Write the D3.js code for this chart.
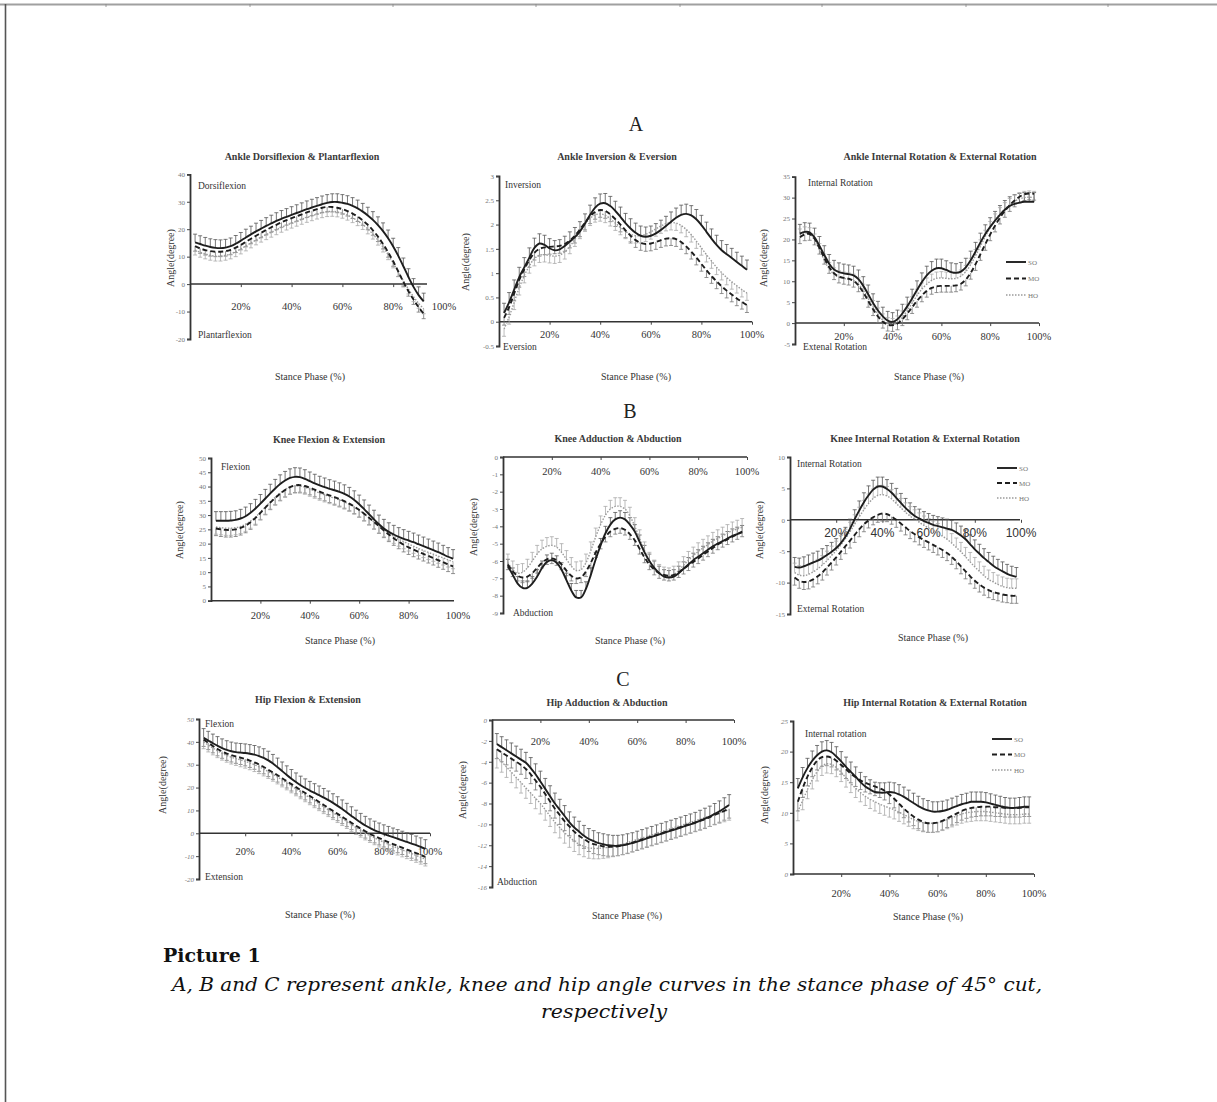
<!DOCTYPE html>
<html>
<head>
<meta charset="utf-8">
<script src="https://cdnjs.cloudflare.com/ajax/libs/d3/7.8.5/d3.min.js"></script>
<style>
  body { margin: 0; background: #fff; }
</style>
</head>
<body>
<svg id="fig" width="1217" height="1102"></svg>
<script>
// stance phase (%) at each sample
const phase = [2,4,6,8,10,12,14,16,18,20,22,24,26,28,30,32,34,36,38,40,42,44,46,48,50,52,54,56,58,60,62,64,66,68,70,72,74,76,78,80,82,84,86,88,90,92,94,96,98];
const pctTicks = [20, 40, 60, 80, 100];
const seriesNames = ["SO", "MO", "HO"];

// A - ankle
const ankleDfSO = [15.2,14.6,14.0,13.5,13.2,13.1,13.3,13.8,14.7,15.8,17.0,18.1,19.2,20.2,21.2,22.1,23.0,23.8,24.5,25.2,25.9,26.6,27.3,27.9,28.5,29.1,29.6,29.9,29.9,29.6,29.2,28.5,27.6,26.4,25.0,23.4,21.5,19.3,16.7,13.7,10.3,6.5,2.6,-1.0,-4.0,-6.3];
const ankleDfMO = [13.8,13.0,12.4,12.0,11.8,11.8,12.0,12.5,13.3,14.3,15.4,16.5,17.6,18.7,19.7,20.7,21.6,22.5,23.3,24.0,24.7,25.4,26.1,26.7,27.3,27.8,28.1,28.1,27.8,27.3,26.6,25.7,24.6,23.2,21.6,19.6,17.3,14.6,11.6,8.3,4.6,0.8,-2.6,-5.6,-8.4,-10.8];
const ankleDfHO = [12.4,11.6,11.0,10.5,10.2,10.2,10.5,11.0,11.8,12.8,13.9,15.0,16.1,17.1,18.0,18.9,19.8,20.7,21.5,22.2,22.9,23.6,24.3,24.9,25.5,26.0,26.4,26.5,26.3,25.8,25.1,24.2,23.1,21.7,20.1,18.2,16.0,13.5,10.7,7.7,4.5,1.2,-1.8,-4.6,-7.0,-9.0];
const ankleDfSD = [3.0, -1.8, -1.8];
const ankleDfTicks = [40, 30, 20, 10, 0, -10, -20];

const ankleInvSO = [0.18,0.40,0.66,0.92,1.12,1.32,1.52,1.61,1.58,1.51,1.47,1.49,1.56,1.65,1.74,1.86,2.02,2.20,2.35,2.43,2.44,2.38,2.28,2.16,2.03,1.92,1.83,1.77,1.75,1.77,1.82,1.89,1.97,2.06,2.14,2.20,2.22,2.19,2.11,1.99,1.85,1.71,1.58,1.47,1.39,1.31,1.23,1.15,1.07];
const ankleInvMO = [0.08,0.30,0.58,0.86,1.08,1.27,1.42,1.50,1.53,1.54,1.55,1.56,1.60,1.67,1.77,1.90,2.04,2.17,2.26,2.30,2.28,2.21,2.11,2.00,1.88,1.77,1.68,1.62,1.60,1.61,1.64,1.68,1.71,1.72,1.70,1.64,1.55,1.44,1.32,1.19,1.06,0.94,0.83,0.73,0.64,0.56,0.48,0.41,0.34];
const ankleInvHO = [-0.15,0.10,0.40,0.70,0.95,1.15,1.30,1.37,1.38,1.36,1.35,1.37,1.44,1.55,1.70,1.86,2.01,2.13,2.20,2.22,2.19,2.12,2.03,1.94,1.86,1.80,1.77,1.77,1.80,1.85,1.91,1.97,2.02,2.04,2.03,1.98,1.90,1.79,1.66,1.52,1.38,1.25,1.12,1.01,0.91,0.82,0.74,0.66,0.59];
const ankleInvSD = [0.2, -0.15, -0.15];
const ankleInvTicks = [3, 2.5, 2, 1.5, 1, 0.5, 0, -0.5];

const ankleRotSO = [21.4,21.8,21.7,20.5,18.5,16.3,14.2,12.8,12.2,11.9,11.7,11.4,10.5,8.9,6.9,4.8,3.0,1.6,0.6,0.3,0.9,2.3,4.0,5.9,7.9,9.8,11.4,12.5,13.1,13.1,12.7,12.2,12.0,12.3,13.3,15.0,17.1,19.3,21.3,23.0,24.5,25.9,27.1,28.0,28.5,28.8,29.0,29.0,29.0];
const ankleRotMO = [20.5,21.2,21.3,20.2,18.0,15.6,13.4,11.9,11.1,10.8,10.6,10.1,9.0,7.3,5.3,3.3,1.6,0.3,-0.4,-0.5,-0.1,0.9,2.3,3.8,5.3,6.6,7.7,8.4,8.8,8.9,8.9,8.9,9.0,9.4,10.4,12.0,14.1,16.5,18.9,21.2,23.3,25.2,26.8,28.2,29.3,30.2,30.8,31.0,30.9];
const ankleRotHO = [21.0,21.5,21.3,19.8,17.5,15.0,13.0,11.7,11.0,10.7,10.5,10.2,9.3,7.8,5.9,3.9,2.1,0.7,-0.2,-0.4,0.2,1.4,3.0,4.8,6.6,8.1,9.3,10.2,10.7,10.8,10.7,10.6,10.7,11.2,12.3,14.0,16.1,18.4,20.7,22.8,24.6,26.1,27.3,28.3,29.1,29.7,30.0,30.1,30.0];
const ankleRotSD = [2.2, -1.5, 1.5];
const ankleRotTicks = [35, 30, 25, 20, 15, 10, 5, 0, -5];

// B - knee
const kneeFlexSO = [28.0,28.0,28.0,28.1,28.3,28.8,29.6,30.8,32.3,34.0,35.8,37.6,39.3,40.9,42.1,43.0,43.4,43.3,42.7,41.9,41.1,40.4,39.8,39.2,38.7,38.1,37.4,36.5,35.3,33.8,32.1,30.3,28.5,26.8,25.3,24.1,23.2,22.4,21.7,21.1,20.5,19.8,19.1,18.4,17.7,17.0,16.2,15.4,14.7];
const kneeFlexMO = [25.3,25.0,24.8,24.8,25.0,25.5,26.3,27.5,29.0,30.8,32.6,34.4,36.0,37.5,38.8,39.8,40.4,40.5,40.2,39.6,38.9,38.2,37.5,36.9,36.3,35.6,34.9,34.0,33.0,31.8,30.5,29.1,27.6,26.1,24.6,23.2,21.9,20.7,19.6,18.7,17.9,17.1,16.4,15.7,15.0,14.2,13.5,12.7,12.0];
const kneeFlexHO = [25.8,25.6,25.4,25.4,25.6,26.0,26.8,27.9,29.3,31.0,32.8,34.6,36.2,37.7,38.9,39.8,40.2,40.2,39.8,39.1,38.4,37.7,37.1,36.5,35.9,35.3,34.6,33.8,32.8,31.7,30.4,29.0,27.6,26.2,24.9,23.7,22.6,21.6,20.7,19.9,19.1,18.3,17.6,16.9,16.3,15.6,15.0,14.3,13.7];
const kneeFlexSD = [3.2, -2.5, -2.5];
const kneeFlexTicks = [50, 45, 40, 35, 30, 25, 20, 15, 10, 5, 0];

const kneeAddSO = [-6.3,-6.8,-7.3,-7.55,-7.55,-7.3,-6.9,-6.4,-6.05,-5.95,-6.1,-6.5,-7.1,-7.7,-8.1,-8.1,-7.6,-6.8,-5.9,-5.1,-4.4,-3.9,-3.6,-3.5,-3.6,-3.9,-4.3,-4.9,-5.5,-6.0,-6.4,-6.7,-6.9,-6.95,-6.9,-6.7,-6.45,-6.2,-5.95,-5.75,-5.55,-5.35,-5.15,-5.0,-4.85,-4.7,-4.55,-4.45,-4.35];
const kneeAddMO = [-6.2,-6.6,-6.85,-6.95,-6.9,-6.7,-6.4,-6.1,-5.9,-5.85,-5.95,-6.2,-6.55,-6.85,-7.0,-6.95,-6.6,-6.1,-5.5,-5.0,-4.6,-4.3,-4.15,-4.1,-4.2,-4.45,-4.8,-5.3,-5.8,-6.2,-6.5,-6.7,-6.8,-6.85,-6.8,-6.65,-6.45,-6.25,-6.05,-5.85,-5.65,-5.45,-5.25,-5.05,-4.9,-4.75,-4.6,-4.45,-4.3];
const kneeAddHO = [-6.1,-6.5,-6.7,-6.65,-6.4,-6.0,-5.6,-5.3,-5.15,-5.1,-5.2,-5.5,-5.9,-6.3,-6.55,-6.5,-6.1,-5.4,-4.6,-3.9,-3.35,-3.0,-2.85,-2.85,-3.0,-3.4,-4.0,-4.7,-5.4,-6.0,-6.45,-6.7,-6.85,-6.9,-6.8,-6.55,-6.25,-5.95,-5.7,-5.45,-5.25,-5.05,-4.85,-4.7,-4.55,-4.4,-4.25,-4.15,-4.05];
const kneeAddSD = [0.4, -0.3, 0.5];
const kneeAddTicks = [0, -1, -2, -3, -4, -5, -6, -7, -8, -9];

const kneeRotSO = [-7.5,-7.6,-7.4,-7.1,-6.8,-6.5,-6.1,-5.6,-5.1,-4.5,-3.7,-2.7,-1.4,0.1,1.5,2.8,3.9,4.8,5.3,5.3,4.9,4.3,3.5,2.7,1.9,1.2,0.6,0.2,-0.2,-0.5,-0.8,-1.0,-1.2,-1.4,-1.6,-2.0,-2.5,-3.1,-3.9,-4.7,-5.4,-6.1,-6.7,-7.3,-7.8,-8.2,-8.6,-8.9,-9.1];
const kneeRotMO = [-9.2,-9.7,-9.9,-9.8,-9.5,-9.0,-8.4,-7.6,-6.8,-6.0,-5.1,-4.2,-3.3,-2.4,-1.5,-0.7,-0.1,0.4,0.8,1.0,0.9,0.5,0.0,-0.6,-1.2,-1.8,-2.3,-2.8,-3.2,-3.6,-4.0,-4.4,-4.8,-5.3,-5.9,-6.6,-7.4,-8.2,-9.0,-9.7,-10.3,-10.8,-11.2,-11.5,-11.7,-11.9,-12.0,-12.1,-12.1];
const kneeRotHO = [-8.4,-8.8,-8.9,-8.7,-8.3,-7.8,-7.2,-6.5,-5.7,-4.9,-4.0,-3.0,-1.9,-0.7,0.5,1.6,2.6,3.4,3.9,4.0,3.8,3.3,2.6,1.9,1.2,0.6,0.1,-0.4,-0.9,-1.3,-1.7,-2.1,-2.6,-3.1,-3.7,-4.4,-5.1,-5.9,-6.7,-7.5,-8.2,-8.9,-9.5,-9.9,-10.3,-10.6,-10.8,-10.9,-10.9];
const kneeRotSD = [1.5, -1.2, 1.5];
const kneeRotTicks = [10, 5, 0, -5, -10, -15];

// C - hip
const hipFlexSO = [41.8,40.6,39.4,38.3,37.3,36.5,35.9,35.5,35.3,35.1,34.8,34.4,33.8,33.0,31.9,30.5,28.9,27.2,25.5,23.9,22.4,21.0,19.8,18.7,17.7,16.7,15.6,14.5,13.3,12.0,10.6,9.1,7.6,6.1,4.7,3.4,2.3,1.3,0.5,-0.3,-1.0,-1.7,-2.4,-3.1,-3.8,-4.5,-5.2,-6.0,-6.8];
const hipFlexMO = [41.0,39.6,38.2,36.9,35.8,34.9,34.2,33.6,33.1,32.5,31.8,31.0,30.1,29.0,27.8,26.6,25.4,24.1,22.8,21.5,20.2,18.9,17.6,16.3,15.0,13.7,12.4,11.1,9.8,8.5,7.2,5.9,4.6,3.3,2.1,0.9,-0.2,-1.2,-2.1,-3.0,-3.9,-4.7,-5.5,-6.3,-7.1,-7.9,-8.7,-9.5,-10.3];
const hipFlexHO = [40.0,38.6,37.3,36.1,35.0,34.1,33.3,32.7,32.1,31.5,30.8,30.0,29.1,28.1,27.0,25.8,24.6,23.3,22.0,20.7,19.4,18.1,16.8,15.5,14.2,12.9,11.6,10.3,9.0,7.7,6.4,5.1,3.8,2.5,1.3,0.1,-1.0,-2.0,-3.0,-3.9,-4.8,-5.7,-6.5,-7.3,-8.1,-8.9,-9.7,-10.5,-11.3];
const hipFlexSD = [4.0, -3.0, -3.0];
const hipFlexTicks = [50, 40, 30, 20, 10, 0, -10, -20];

const hipAddSO = [-2.3,-2.6,-2.9,-3.2,-3.5,-3.8,-4.1,-4.6,-5.2,-5.9,-6.6,-7.3,-8.0,-8.6,-9.2,-9.8,-10.3,-10.7,-11.1,-11.4,-11.6,-11.8,-11.9,-12.0,-12.05,-12.05,-12.0,-11.9,-11.8,-11.65,-11.5,-11.35,-11.2,-11.05,-10.9,-10.75,-10.6,-10.45,-10.3,-10.15,-10.0,-9.85,-9.65,-9.45,-9.25,-9.0,-8.75,-8.45,-8.15];
const hipAddMO = [-2.8,-3.1,-3.4,-3.7,-4.0,-4.3,-4.7,-5.2,-5.8,-6.4,-7.1,-7.8,-8.5,-9.1,-9.7,-10.2,-10.7,-11.1,-11.4,-11.7,-11.9,-12.0,-12.1,-12.15,-12.15,-12.1,-12.0,-11.9,-11.75,-11.6,-11.45,-11.3,-11.15,-11.0,-10.85,-10.7,-10.55,-10.4,-10.25,-10.1,-9.95,-9.8,-9.65,-9.5,-9.3,-9.1,-8.9,-8.7,-8.5];
const hipAddHO = [-3.6,-4.0,-4.5,-5.0,-5.5,-6.0,-6.5,-7.0,-7.5,-8.0,-8.6,-9.2,-9.8,-10.3,-10.8,-11.2,-11.6,-11.9,-12.1,-12.25,-12.3,-12.3,-12.25,-12.2,-12.1,-12.0,-11.9,-11.75,-11.6,-11.45,-11.3,-11.15,-11.0,-10.85,-10.7,-10.55,-10.4,-10.25,-10.1,-9.95,-9.8,-9.65,-9.5,-9.35,-9.2,-9.05,-8.9,-8.75,-8.6];
const hipAddSD = [1.0, -0.9, -1.0];
const hipAddTicks = [0, -2, -4, -6, -8, -10, -12, -14, -16];

const hipRotSO = [14.0,15.8,17.3,18.5,19.4,20.0,20.2,19.9,19.2,18.4,17.5,16.7,15.9,15.0,14.3,13.8,13.4,13.3,13.3,13.4,13.3,13.0,12.6,12.1,11.6,11.1,10.7,10.4,10.2,10.2,10.3,10.5,10.8,11.1,11.4,11.6,11.8,11.8,11.8,11.7,11.5,11.3,11.1,10.9,10.8,10.8,10.9,11.0,11.0];
const hipRotMO = [11.8,14.0,15.9,17.4,18.5,19.1,19.2,19.0,18.5,17.8,17.1,16.4,15.8,15.3,14.9,14.6,14.3,14.0,13.6,13.0,12.3,11.5,10.7,10.0,9.4,8.9,8.5,8.3,8.3,8.4,8.7,9.1,9.5,9.9,10.3,10.6,10.8,10.9,11.0,11.0,11.0,10.9,10.9,10.8,10.8,10.8,10.8,10.9,10.9];
const hipRotHO = [10.2,12.0,13.8,15.4,16.7,17.6,18.0,17.9,17.4,16.6,15.7,14.8,14.0,13.3,12.7,12.2,11.8,11.4,11.1,10.8,10.5,10.1,9.7,9.3,8.9,8.6,8.4,8.3,8.3,8.4,8.6,8.9,9.2,9.5,9.8,10.0,10.1,10.2,10.2,10.2,10.1,10.0,9.9,9.8,9.7,9.7,9.7,9.8,9.8];
const hipRotSD = [1.6, -1.5, -1.5];
const hipRotTicks = [25, 20, 15, 10, 5, 0];

const panels = [
  { title: "Ankle Dorsiflexion & Plantarflexion", series: [ankleDfSO, ankleDfMO, ankleDfHO], sd: ankleDfSD, yTicks: ankleDfTicks, notes: ["Dorsiflexion", "Plantarflexion"] },
  { title: "Ankle Inversion & Eversion", series: [ankleInvSO, ankleInvMO, ankleInvHO], sd: ankleInvSD, yTicks: ankleInvTicks, notes: ["Inversion", "Eversion"] },
  { title: "Ankle Internal Rotation & External Rotation", series: [ankleRotSO, ankleRotMO, ankleRotHO], sd: ankleRotSD, yTicks: ankleRotTicks, notes: ["Internal Rotation", "Extenal Rotation"] },
  { title: "Knee Flexion & Extension", series: [kneeFlexSO, kneeFlexMO, kneeFlexHO], sd: kneeFlexSD, yTicks: kneeFlexTicks, notes: ["Flexion"] },
  { title: "Knee Adduction & Abduction", series: [kneeAddSO, kneeAddMO, kneeAddHO], sd: kneeAddSD, yTicks: kneeAddTicks, notes: ["Abduction"] },
  { title: "Knee Internal Rotation & External Rotation", series: [kneeRotSO, kneeRotMO, kneeRotHO], sd: kneeRotSD, yTicks: kneeRotTicks, notes: ["Internal Rotation", "External Rotation"] },
  { title: "Hip Flexion & Extension", series: [hipFlexSO, hipFlexMO, hipFlexHO], sd: hipFlexSD, yTicks: hipFlexTicks, notes: ["Flexion", "Extension"] },
  { title: "Hip Adduction & Abduction", series: [hipAddSO, hipAddMO, hipAddHO], sd: hipAddSD, yTicks: hipAddTicks, notes: ["Abduction"] },
  { title: "Hip Internal Rotation & External Rotation", series: [hipRotSO, hipRotMO, hipRotHO], sd: hipRotSD, yTicks: hipRotTicks, notes: ["Internal rotation"] }
];

// pixel layout of each panel (same order as panels)
const layout = [
  { x0: 190, x100: 444, xEnd: 427, yTop: 174.3, yBot: 339, tickY: 310, title: [302, 160], xTitle: [310, 380], yLab: [174, 258], notes: [[198, 189], [198, 338]] },
  { x0: 499, x100: 752, xEnd: 752, yTop: 176, yBot: 346, tickY: 338, title: [617, 160], xTitle: [636, 380], yLab: [469, 262], notes: [[505, 188], [503, 350]] },
  { x0: 795, x100: 1039, xEnd: 1039, yTop: 176.7, yBot: 344, tickY: 340, title: [940, 160], xTitle: [929, 380], yLab: [767, 258], notes: [[808, 186], [803, 350]], legend: [1006, 262, 16.5] },
  { x0: 211, x100: 458, xEnd: 454, yTop: 458, yBot: 600.7, tickY: 619, title: [329, 443], xTitle: [340, 644], yLab: [183, 530], notes: [[221, 470]] },
  { x0: 503, x100: 747, xEnd: 747, yTop: 457, yBot: 613, tickY: 475, title: [618, 442], xTitle: [630, 644], yLab: [477, 527], notes: [[513, 616]] },
  { x0: 790, x100: 1021, xEnd: 1020, yTop: 457, yBot: 614, tickY: 537, title: [925, 442], xTitle: [933, 641], yLab: [763, 530], notes: [[797, 467], [797, 612]], legend: [997, 468, 15], bigTicks: true },
  { x0: 199, x100: 430, xEnd: 430, yTop: 719, yBot: 879, tickY: 855, title: [308, 703], xTitle: [320, 918], yLab: [166, 785], notes: [[205, 727], [205, 880]], italic: true },
  { x0: 492, x100: 734, xEnd: 734, yTop: 720, yBot: 887, tickY: 745, title: [607, 706], xTitle: [627, 919], yLab: [466, 790], notes: [[497, 885]], italic: true },
  { x0: 793, x100: 1034, xEnd: 1034, yTop: 721, yBot: 874, tickY: 897, title: [935, 706], xTitle: [928, 920], yLab: [768, 795], notes: [[805, 737]], legend: [992, 739, 15.5], italic: true }
];

const bigLetters = [["A", 636, 131], ["B", 630, 418], ["C", 623, 686]];

const serif = "'Liberation Serif', 'Times New Roman', serif";
const seriesStyle = [
  { stroke: "#1e1e1e", width: 1.9, dash: null, bar: "#555" },
  { stroke: "#1e1e1e", width: 1.9, dash: "5,3", bar: "#777" },
  { stroke: "#9a9a9a", width: 1.4, dash: "1.5,1.5", bar: "#aaa" }
];

const svg = d3.select("#fig");

// page frame
svg.append("line").attr("x1", 0).attr("x2", 1217).attr("y1", 4.5).attr("y2", 4.5)
  .attr("stroke", "#a0a0a0").attr("stroke-width", 2);
[106, 250, 393, 536, 680, 822, 966, 1108].forEach(fx => {
  svg.append("line").attr("x1", fx).attr("x2", fx).attr("y1", 4).attr("y2", 7)
    .attr("stroke", "#888").attr("stroke-width", 0.8);
});
svg.append("line").attr("x1", 5.5).attr("x2", 5.5).attr("y1", 4).attr("y2", 1102)
  .attr("stroke", "#555").attr("stroke-width", 1.6);

function drawPanel(p, L) {
  const x = d3.scaleLinear().domain([0, 100]).range([L.x0, L.x100]);
  const y = d3.scaleLinear().domain(d3.extent(p.yTicks)).range([L.yBot, L.yTop]);
  const g = svg.append("g");

  // y axis
  const ya = g.append("g").attr("transform", `translate(${L.x0},0)`)
    .call(d3.axisLeft(y).tickValues(p.yTicks).tickSize(3).tickSizeOuter(3).tickFormat(d => d));
  ya.select(".domain").attr("stroke", "#333").attr("stroke-width", 1.8);
  ya.selectAll(".tick line").attr("stroke", "#444");
  ya.selectAll(".tick text").attr("font-family", serif).attr("font-size", 7)
    .attr("fill", "#777").attr("font-style", L.italic ? "italic" : null).attr("x", -5);

  // horizontal axis at zero
  const y0 = y(0);
  g.append("line").attr("x1", L.x0).attr("x2", L.xEnd).attr("y1", y0).attr("y2", y0)
    .attr("stroke", "#333").attr("stroke-width", 1.5);
  const xa = g.append("g").attr("transform", `translate(0,${y0})`)
    .call(d3.axisBottom(x).tickValues(pctTicks.filter(t => x(t) <= L.xEnd + 1)).tickSize(3).tickFormat(""));
  xa.select(".domain").remove();
  xa.selectAll(".tick line").attr("stroke", "#444");

  g.selectAll(".xlab").data(pctTicks).join("text")
    .attr("x", d => x(d)).attr("y", L.tickY)
    .attr("text-anchor", "middle")
    .attr("font-family", L.bigTicks ? "'Liberation Sans', Arial, sans-serif" : serif)
    .attr("font-size", L.bigTicks ? 12 : 10.5)
    .attr("fill", "#333")
    .text(d => d + "%");

  // error bars
  p.series.forEach((s, k) => {
    const st = seriesStyle[k];
    const bars = g.append("g").attr("stroke", st.bar).attr("stroke-width", 0.8);
    s.forEach((v, i) => {
      const px = x(phase[i]);
      const e = y(v + p.sd[k]);
      bars.append("line").attr("x1", px).attr("x2", px).attr("y1", y(v)).attr("y2", e);
      bars.append("line").attr("x1", px - 2).attr("x2", px + 2).attr("y1", e).attr("y2", e);
    });
  });

  // lines, HO first so SO sits on top
  [2, 1, 0].forEach(k => {
    const st = seriesStyle[k];
    const line = d3.line().x((d, i) => x(phase[i])).y(d => y(d)).curve(d3.curveCatmullRom);
    g.append("path").datum(p.series[k]).attr("d", line)
      .attr("fill", "none").attr("stroke", st.stroke).attr("stroke-width", st.width)
      .attr("stroke-dasharray", st.dash);
  });

  // titles and labels
  g.append("text").attr("x", L.title[0]).attr("y", L.title[1]).attr("text-anchor", "middle")
    .attr("font-family", serif).attr("font-weight", "bold").attr("font-size", 10).attr("fill", "#3a3a3a")
    .text(p.title);
  g.append("text").attr("x", L.xTitle[0]).attr("y", L.xTitle[1]).attr("text-anchor", "middle")
    .attr("font-family", serif).attr("font-size", 10).attr("fill", "#333").text("Stance Phase (%)");
  g.append("text").attr("transform", `translate(${L.yLab[0]},${L.yLab[1]}) rotate(-90)`)
    .attr("text-anchor", "middle").attr("font-family", serif).attr("font-size", 10).attr("fill", "#333")
    .text("Angle(degree)");
  p.notes.forEach((t, i) => {
    g.append("text").attr("x", L.notes[i][0]).attr("y", L.notes[i][1])
      .attr("font-family", serif).attr("font-size", 9.5).attr("fill", "#333").text(t);
  });

  // legend
  if (L.legend) {
    const [lx, ly, step] = L.legend;
    seriesNames.forEach((n, k) => {
      const st = seriesStyle[k];
      const yy = ly + k * step;
      g.append("line").attr("x1", lx).attr("x2", lx + 20).attr("y1", yy).attr("y2", yy)
        .attr("stroke", st.stroke).attr("stroke-width", st.width).attr("stroke-dasharray", st.dash);
      g.append("text").attr("x", lx + 22).attr("y", yy + 2.5)
        .attr("font-family", serif).attr("font-size", 7).attr("fill", "#777").text(n);
    });
  }
}

panels.forEach((p, i) => drawPanel(p, layout[i]));

bigLetters.forEach(([t, bx, by]) => {
  svg.append("text").attr("x", bx).attr("y", by).attr("text-anchor", "middle")
    .attr("font-family", serif).attr("font-size", 20).attr("fill", "#222").text(t);
});

// caption
const capFont = "'DejaVu Serif', serif";
svg.append("text").attr("x", 163).attr("y", 962).attr("font-family", capFont)
  .attr("font-weight", "bold").attr("font-size", 19).attr("fill", "#111").text("Picture 1");
svg.append("text").attr("x", 607).attr("y", 991).attr("text-anchor", "middle")
  .attr("font-family", capFont).attr("font-style", "italic").attr("font-size", 18.5).attr("fill", "#111")
  .attr("textLength", 870).attr("lengthAdjust", "spacingAndGlyphs")
  .text("A, B and C represent ankle, knee and hip angle curves in the stance phase of 45° cut,");
svg.append("text").attr("x", 604).attr("y", 1018).attr("text-anchor", "middle")
  .attr("font-family", capFont).attr("font-style", "italic").attr("font-size", 18.5).attr("fill", "#111")
  .attr("textLength", 126).attr("lengthAdjust", "spacingAndGlyphs")
  .text("respectively");
</script>
</body>
</html>
